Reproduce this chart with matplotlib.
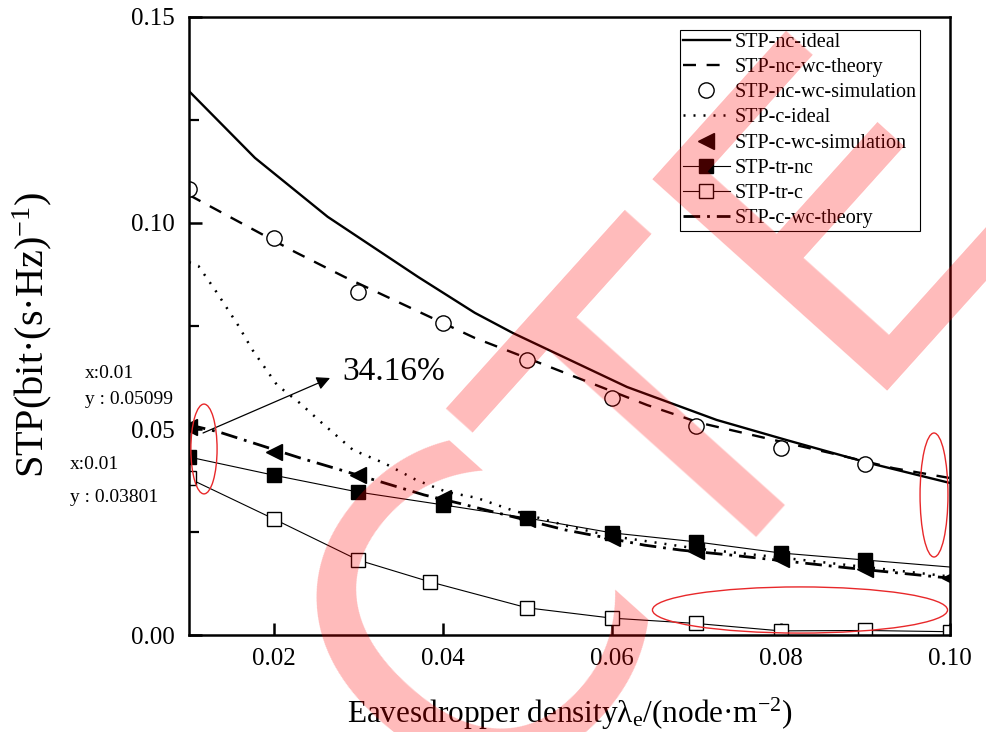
import matplotlib
matplotlib.use("Agg")
import matplotlib.pyplot as plt
from matplotlib.patches import Ellipse

plt.rcParams['font.family'] = ['Liberation Serif', 'DejaVu Serif']
plt.rcParams['mathtext.fontset'] = 'custom'
plt.rcParams['mathtext.rm'] = 'Liberation Serif'
plt.rcParams['mathtext.it'] = 'Liberation Serif:italic'

# ---------------- data ----------------
xs = [0.01, 0.02, 0.03, 0.04, 0.05, 0.06, 0.07, 0.08, 0.09, 0.10]

nc_ideal_x = [0.010, 0.0178, 0.0264, 0.0371, 0.0438, 0.0483, 0.0618, 0.0724, 0.0807, 0.0905, 0.100]
nc_ideal_y = [0.1320, 0.1158, 0.1015, 0.0869, 0.0782, 0.0733, 0.0602, 0.0522, 0.0473, 0.0417, 0.0369]

nc_wc_theory_x = [0.010, 0.0225, 0.0284, 0.0438, 0.0515, 0.0642, 0.0704, 0.0807, 0.0858, 0.0933, 0.100]
nc_wc_theory_y = [0.1068, 0.0930, 0.0869, 0.0721, 0.0660, 0.0558, 0.0515, 0.0466, 0.0442, 0.0405, 0.0381]

nc_wc_sim_y = [0.1083, 0.0964, 0.0833, 0.0757, 0.0667, 0.0575, 0.0508, 0.0454, 0.0415]

c_ideal_x = [0.010, 0.0111, 0.0131, 0.0158, 0.0175, 0.0204, 0.0231, 0.0257, 0.0294,
             0.0331, 0.0369, 0.0405, 0.0440, 0.0482, 0.055, 0.060, 0.070, 0.080, 0.090, 0.100]
c_ideal_y = [0.0905, 0.0896, 0.0837, 0.0752, 0.0692, 0.0607, 0.0563, 0.0515, 0.0449,
             0.0417, 0.0376, 0.0347, 0.0333, 0.0303, 0.0263, 0.0240, 0.0210, 0.0188, 0.0165, 0.0142]

c_wc_theory_x = [0.010, 0.0135, 0.0231, 0.0328, 0.0378, 0.0419, 0.0545, 0.0639, 0.0682, 0.0741, 0.0879, 0.100]
c_wc_theory_y = [0.0510, 0.0493, 0.0430, 0.0371, 0.0340, 0.0320, 0.0255, 0.0218, 0.0206, 0.0194, 0.0163, 0.0138]

c_wc_sim_y = [0.0505, 0.0444, 0.0388, 0.0333, 0.0282, 0.0235, 0.0205, 0.0185, 0.0160, 0.0138]

tr_nc_y = [0.0432, 0.0388, 0.0347, 0.0316, 0.0284, 0.0248, 0.0226, 0.0199, 0.0182, 0.0165]

tr_c_x = [0.01, 0.02, 0.03, 0.0385, 0.05, 0.06, 0.07, 0.08, 0.09, 0.10]
tr_c_y = [0.0380, 0.0282, 0.0182, 0.0129, 0.0066, 0.0041, 0.0028, 0.0010, 0.0011, 0.0008]

labels = ['STP-nc-ideal', 'STP-nc-wc-theory', 'STP-nc-wc-simulation', 'STP-c-ideal',
          'STP-c-wc-simulation', 'STP-tr-nc', 'STP-tr-c', 'STP-c-wc-theory']

x_ticks = [0.02, 0.04, 0.06, 0.08, 0.10]
y_ticks = [0.00, 0.05, 0.10, 0.15]

# ---------------- figure ----------------
fig = plt.figure(figsize=(9.87, 7.32), dpi=100)
ax = fig.add_axes([0.1915, 0.1325, 0.771, 0.8443])

h1, = ax.plot(nc_ideal_x, nc_ideal_y, color='black', lw=1.7, label=labels[0])
h2, = ax.plot(nc_wc_theory_x, nc_wc_theory_y, color='black', lw=1.7,
              dashes=(5.5, 4.5), label=labels[1])
h3, = ax.plot(xs[:9], nc_wc_sim_y, ls='none', marker='o', ms=11, mfc='white',
              mec='black', mew=1.0, label=labels[2])
h4, = ax.plot(c_ideal_x, c_ideal_y, color='black', lw=1.8, dashes=(0.8, 3.2),
              label=labels[3])
h8, = ax.plot(c_wc_theory_x, c_wc_theory_y, color='black', lw=2.0,
              dashes=(6, 2.5, 1, 2.5), label=labels[7])
h5, = ax.plot(xs, c_wc_sim_y, ls='none', marker='<', ms=12, mfc='black',
              mec='black', label=labels[4])
h6, = ax.plot(xs, tr_nc_y, color='black', lw=0.8, marker='s', ms=9.5, mfc='black',
              mec='black', markevery=list(range(9)), label=labels[5])
h7, = ax.plot(tr_c_x, tr_c_y, color='black', lw=0.8, marker='s', ms=9.5, mfc='white',
              mec='black', mew=1.0, label=labels[6])

ax.set_xlim(0.01, 0.10)
ax.set_ylim(0.0, 0.15)
ax.set_xticks(x_ticks)
ax.set_xticklabels(['%.2f' % v for v in x_ticks])
ax.set_yticks(y_ticks)
ax.set_yticklabels(['%.2f' % v for v in y_ticks])
ax.set_yticks([0.025, 0.075, 0.125], minor=True)
ax.tick_params(axis='both', which='major', direction='in', length=9, width=1.8,
               labelsize=18, top=False, right=False)
ax.tick_params(axis='x', which='major', pad=9)
ax.tick_params(axis='y', which='major', pad=10)
ax.tick_params(axis='y', which='minor', direction='in', length=7, width=1.6)
for s in ax.spines.values():
    s.set_linewidth(1.8)

ax.set_xlabel('Eavesdropper densityλ$_\\mathregular{e}$/(node·m$^\\mathregular{-2}$)',
              fontsize=22.5)
ax.xaxis.set_label_coords(0.5, -0.099)
ax.set_ylabel('STP(bit·(s·Hz)$^\\mathregular{-1}$)', fontsize=29)
ax.yaxis.set_label_coords(-0.178, 0.485)

leg = ax.legend(handles=[h1, h2, h3, h4, h5, h6, h7, h8], loc='upper right',
                bbox_to_anchor=(0.9606, 0.979), borderaxespad=0, fontsize=14.5,
                frameon=True, fancybox=False, edgecolor='black', framealpha=1,
                handlelength=2.35, handletextpad=0.25, labelspacing=0.3,
                borderpad=0.15, numpoints=1)
leg.get_frame().set_linewidth(0.8)

# annotations
ax.annotate('', xy=(0.02668, 0.06238), xytext=(0.01166, 0.04903),
            arrowprops=dict(arrowstyle='-|>', color='black', lw=0.9,
                            mutation_scale=20, shrinkA=0, shrinkB=0))
ax.text(0.0281, 0.0638, '34.16%', fontsize=24, ha='left', va='center')

for (cx, cy, w, h) in [(0.01177, 0.04515, 0.0031, 0.0218),
                       (0.09811, 0.03398, 0.0033, 0.0301),
                       (0.08226, 0.00607, 0.0349, 0.0112)]:
    ax.add_patch(Ellipse((cx, cy), w, h, fill=False, edgecolor='#e8282a', lw=1.0,
                         clip_on=False, zorder=6))

fig.text(0.0861, 0.4904, 'x:0.01', fontsize=14, ha='left', va='center')
fig.text(0.0861, 0.4549, 'y : 0.05099', fontsize=14, ha='left', va='center')
fig.text(0.0709, 0.3661, 'x:0.01', fontsize=14, ha='left', va='center')
fig.text(0.0709, 0.3197, 'y : 0.03801', fontsize=14, ha='left', va='center')

# watermark
fig.text(0.673, 0.41, 'CTE', fontsize=312, family='DejaVu Sans', rotation=48,
         rotation_mode='anchor', ha='center', va='center', color='red', alpha=0.27,
         zorder=100)

fig.savefig('out.png', dpi=100)
